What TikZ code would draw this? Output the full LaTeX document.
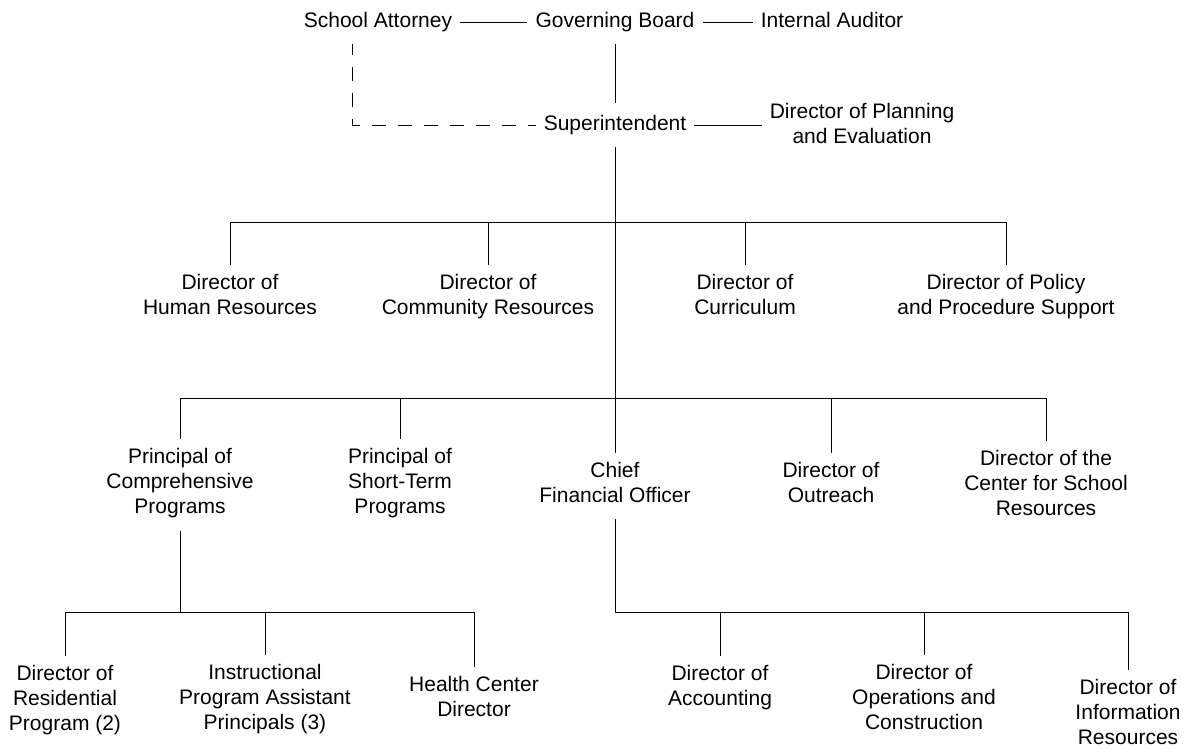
\documentclass[tikz,border=0pt]{standalone}
\usepackage{fontspec}
\setmainfont{Liberation Sans}
\tikzset{
  post/.style={align=center, inner xsep=8pt, inner ysep=9pt,
    font=\fontsize{21pt}{25pt}\selectfont,
    execute at begin node=\strut, execute at end node=\strut},
  link/.style={line width=0.9pt},
}
\begin{document}
\begin{tikzpicture}[x=1pt, y=-1pt]
    \useasboundingbox (0,0) rectangle (1185,747);
    % top
    \node[post] (attorney) at (378,22) {School Attorney};
    \node[post] (board) at (615,22) {Governing Board};
    \node[post] (auditor) at (832,22) {Internal Auditor};
    \node[post] (super) at (615,125) {Superintendent};
    \node[post] (planning) at (862,127) {Director of Planning\\and Evaluation};
    % second row
    \node[post] (human) at (230,298) {Director of\\Human Resources};
    \node[post] (community) at (488,298) {Director of\\Community Resources};
    \node[post] (curriculum) at (745,298) {Director of\\Curriculum};
    \node[post] (policy) at (1006,298) {Director of Policy\\and Procedure Support};
    % third row
    \node[post] (comprehensive) at (180,485) {Principal of\\Comprehensive\\Programs};
    \node[post] (shortterm) at (400,485) {Principal of\\Short-Term\\Programs};
    \node[post] (cfo) at (615,486) {Chief\\Financial Officer};
    \node[post] (outreach) at (831,486) {Director of\\Outreach};
    \node[post] (resources) at (1046,487) {Director of the\\Center for School\\Resources};
    % fourth row
    \node[post] (residential) at (65,702) {Director of\\Residential\\Program (2)};
    \node[post] (assistants) at (265,701) {Instructional\\Program Assistant\\Principals (3)};
    \node[post] (health) at (474,700) {Health Center\\Director};
    \node[post] (accounting) at (720,689) {Director of\\Accounting};
    \node[post] (operations) at (924,701) {Director of\\Operations and\\Construction};
    \node[post] (information) at (1128,716) {Director of\\Information\\Resources};
    \coordinate (bartwo) at (615,222);
    \coordinate (barthree) at (615,398);
    \coordinate (barfour) at (615,612);

    \draw[link] (attorney) -- (board);
    \draw[link] (board) -- (auditor);
    \draw[link] (board) -- (super);
    \draw[link, dash pattern=on 14pt off 12pt, dash phase=3pt] ([xshift=-26pt]attorney.south) |- (super.west);
    \draw[link] (super.east) -- (super.east -| planning.west);
    \draw[link] (super) -- (cfo);
    \draw[link] (human.north |- bartwo) -- (policy.north |- bartwo);
    \foreach \post in {human,community,curriculum,policy}
        \draw[link] (\post.north |- bartwo) -- (\post.north);
    \draw[link] (comprehensive.north |- barthree) -- (resources.north |- barthree);
    \foreach \post in {comprehensive,shortterm,outreach,resources}
        \draw[link] (\post.north |- barthree) -- (\post.north);
    \draw[link] (comprehensive) -- (comprehensive.south |- barfour);
    \draw[link] (residential.north |- barfour) -- (health.north |- barfour);
    \foreach \post in {residential,assistants,health}
        \draw[link] (\post.north |- barfour) -- (\post.north);
    \draw[link] (cfo) |- (information.north |- barfour);
    \foreach \post in {accounting,operations,information}
        \draw[link] (\post.north |- barfour) -- (\post.north);
\end{tikzpicture}
\end{document}
